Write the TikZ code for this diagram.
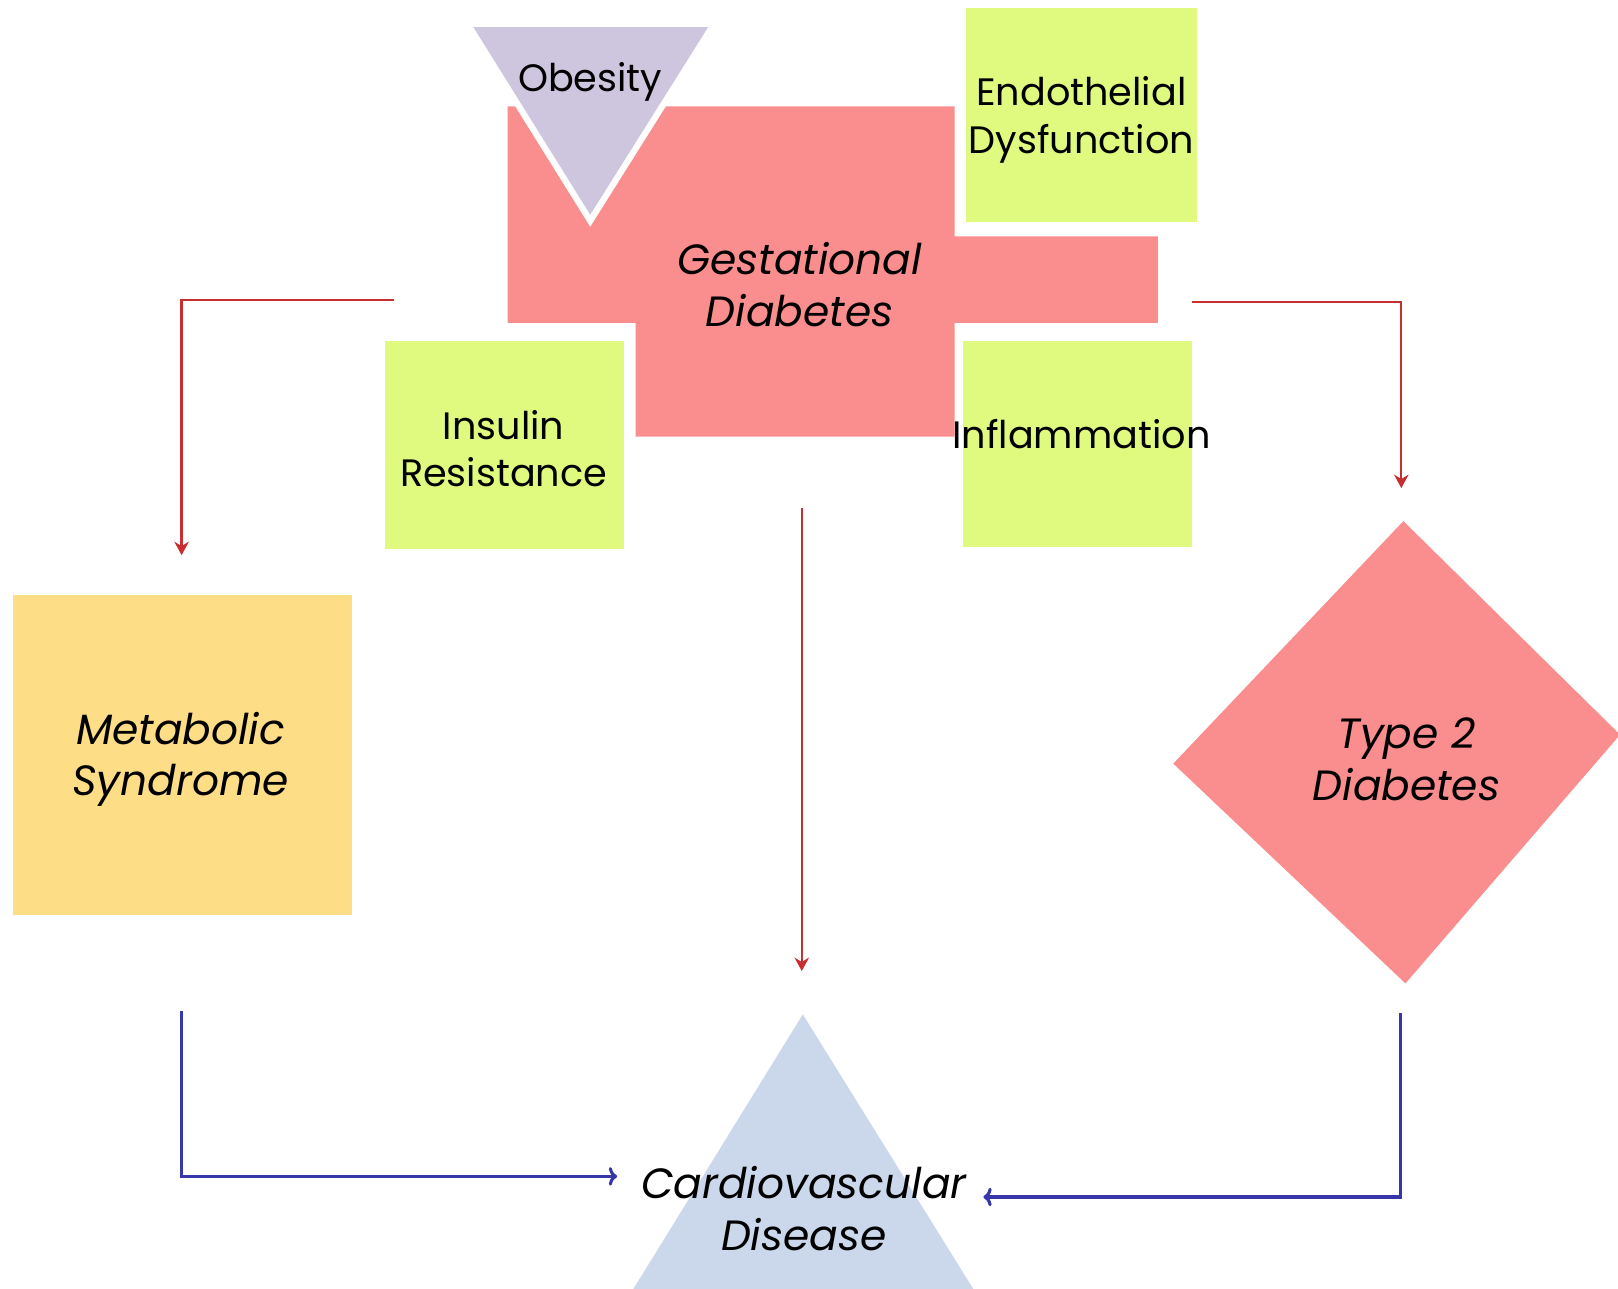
\documentclass[tikz,border=0pt]{standalone}
\usepackage{fontspec}
\setmainfont{Poppins}
\usetikzlibrary{arrows.meta}

\definecolor{gdPink}{RGB}{250,142,142}
\definecolor{riskGreen}{RGB}{224,250,128}
\definecolor{obLilac}{RGB}{205,198,222}
\definecolor{msGold}{RGB}{253,221,133}
\definecolor{cvBlue}{RGB}{203,215,234}
\definecolor{arrRed}{RGB}{200,45,48}
\definecolor{arrBlue}{RGB}{55,55,170}

\begin{document}
\begin{tikzpicture}[x=0.5pt,y=0.5pt,yscale=-1,xscale=1,
    lbl/.style={font=\fontsize{18.5}{23}\selectfont, align=center, inner sep=0pt},
    ilbl/.style={font=\fontsize{20.5}{25}\selectfont\itshape, align=center, inner sep=0pt},
    redarrow/.style={draw=arrRed, line width=1.1pt, -{Stealth[length=6.5pt,width=7pt]}},
    bluearrow/.style={draw=arrBlue, line width=1.5pt, -{To[length=4pt,width=9pt]}}]
        \useasboundingbox (0,0) rectangle (1568,1249);

        %Shape: Gestational Diabetes (cross)
        \fill [gdPink] (492,103) -- (925,103) -- (925,229) -- (1122,229) -- (1122,313) -- (925,313) -- (925,423) -- (616,423) -- (616,313) -- (492,313) -- cycle ;
        %Shape: Triangle Obesity
        \filldraw [fill=obLilac, draw=white, line width=3pt, line join=miter] (453,23) -- (692,23) -- (572,214) -- cycle ;
        %Shape: Rectangles (risk factors)
        \fill [riskGreen] (936,8) rectangle (1160,215) ;
        \fill [riskGreen] (373,330) rectangle (605,532) ;
        \fill [riskGreen] (933,330) rectangle (1155,530) ;
        %Shape: Rectangle Metabolic Syndrome
        \fill [msGold] (13,577) rectangle (341,887) ;
        %Shape: Diamond Type 2 Diabetes
        \fill [gdPink] (1360,505) -- (1570,712) -- (1362,953) -- (1137,740) -- cycle ;
        %Shape: Triangle Cardiovascular Disease
        \fill [cvBlue] (778,983) -- (945,1252) -- (612,1252) -- cycle ;

        % Text Nodes
        \node [ilbl] (gd) at (775,276) {Gestational\\Diabetes};
        \node [lbl] (ob) at (572,79) {Obesity};
        \node [lbl] (ed) at (1048,116) {Endothelial\\Dysfunction};
        \node [lbl] (ir) at (488,435) {Insulin\\Resistance};
        \node [lbl] (inf) at (1048,421) {Inflammation};
        \node [ilbl] (ms) at (175,736) {Metabolic\\Syndrome};
        \node [ilbl] (t2) at (1363,736) {Type 2\\Diabetes};
        \node [ilbl] (cv) at (779,1171) {Cardiovascular\\Disease};

        % Connector ends
        \coordinate (gdW) at (382,291);
        \coordinate (msN) at (176,538);
        \coordinate (gdE) at (1155,293);
        \coordinate (t2N) at (1358,473);
        \coordinate (gdS) at (777,492);
        \coordinate (cvN) at (777,941);
        \coordinate (msS) at (176,980);
        \coordinate (cvW) at (598,1140);
        \coordinate (t2S) at (1357,982);
        \coordinate (cvE) at (953,1160);

        %Connectors
        \draw [redarrow] (gdW) -| (msN) ;
        \draw [redarrow] (gdE) -| (t2N) ;
        \draw [redarrow] (gdS) -- (cvN) ;
        \draw [bluearrow] (msS) |- (cvW) ;
        \draw [bluearrow] (t2S) |- (cvE) ;
\end{tikzpicture}
\end{document}
